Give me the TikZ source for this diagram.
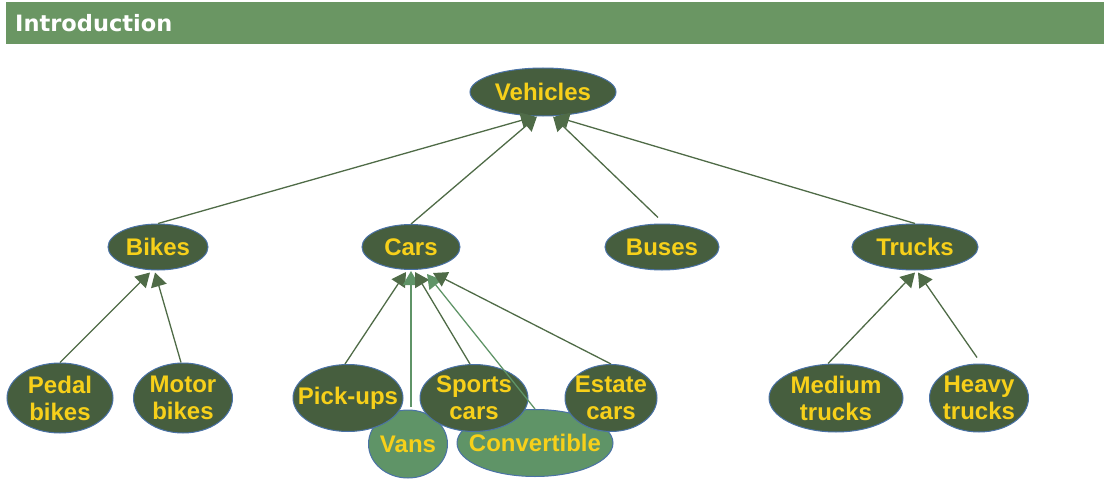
\documentclass[tikz,border=0pt]{standalone}
\usepackage{fontspec}
\setmainfont{Liberation Sans}
\newfontfamily\hdrfont{DejaVu Sans}
\usetikzlibrary{shapes.geometric,arrows.meta,calc}
\definecolor{hdrgreen}{HTML}{6A9663}
\definecolor{darkfill}{HTML}{465E3E}
\definecolor{lightfill}{HTML}{5F9467}
\definecolor{rim}{HTML}{4A72A6}
\definecolor{txtyellow}{HTML}{F7D01A}
\definecolor{darkline}{HTML}{4F6B47}
\begin{document}
\begin{tikzpicture}[x=1pt,y=-1pt,
  el/.style={ellipse,draw=rim,line width=1pt,fill=darkfill,inner sep=0pt},
  lel/.style={el,fill=lightfill},
  tx/.style={text=txtyellow,font=\fontsize{24}{27}\selectfont\bfseries,align=center,inner sep=0pt},
  arr/.style={draw=darkline,line width=1.3pt,-{Triangle[length=14pt,width=16pt]}},
  larr/.style={arr,draw=lightfill}]
\useasboundingbox (0,0) rectangle (1104,487);
% header
\node[fill=hdrgreen,minimum width=1098pt,minimum height=42pt,inner sep=0pt,anchor=north west] (hdr) at (6,2) {};
\node[anchor=base west,inner sep=0pt,text=white,font=\hdrfont\bfseries\fontsize{22.5}{24}\selectfont] (hdrtxt) at (15,32) {Introduction};
% ellipses
\node[el,minimum width=146pt,minimum height=48pt] (veh) at (543,92) {};
\node[el,minimum width=100pt,minimum height=46pt] (bikes) at (158,247) {};
\node[el,minimum width=98pt,minimum height=45pt] (cars) at (411,247) {};
\node[el,minimum width=114pt,minimum height=46pt] (buses) at (662,247) {};
\node[el,minimum width=126pt,minimum height=46pt] (trucks) at (915,247) {};
\node[el,minimum width=106pt,minimum height=70pt] (pedal) at (60,398) {};
\node[el,minimum width=99pt,minimum height=70pt] (motor) at (183,398) {};
\node[lel,minimum width=79pt,minimum height=68pt] (vans) at (408,444) {};
\node[lel,minimum width=156pt,minimum height=67pt] (conv) at (535,443) {};
\node[el,minimum width=110pt,minimum height=67pt] (pick) at (348,398) {};
\node[el,minimum width=108pt,minimum height=67pt] (sports) at (474,398) {};
\node[el,minimum width=92pt,minimum height=67pt] (estate) at (611,398) {};
\node[el,minimum width=134pt,minimum height=68pt] (medium) at (836,398) {};
\node[el,minimum width=99pt,minimum height=68pt] (heavy) at (979,398) {};
% texts
\node[tx] (veh-t) at (veh) {Vehicles};
\node[tx] (bikes-t) at (bikes) {Bikes};
\node[tx] (cars-t) at (cars) {Cars};
\node[tx] (buses-t) at (buses) {Buses};
\node[tx] (trucks-t) at (trucks) {Trucks};
\node[tx] (pedal-t) at (pedal) {Pedal\\bikes};
\node[tx] (motor-t) at (motor) {Motor\\bikes};
\node[tx] (vans-t) at (vans) {Vans};
\node[tx] (conv-t) at (conv) {Convertible};
\node[tx] (pick-t) at (pick) {Pick-ups};
\node[tx] (sports-t) at (sports) {Sports\\cars};
\node[tx] (estate-t) at (estate) {Estate\\cars};
\node[tx] (medium-t) at (medium) {Medium\\trucks};
\node[tx] (heavy-t) at (heavy) {Heavy\\trucks};
% connectors
\draw[arr] (bikes.north) -- ($(veh.south)+(-8,0)$);
\draw[arr] (cars.north) -- ($(veh.south)+(-6,0)$);
\draw[arr] ($(buses.north)+(-4,-6)$) -- ($(veh.south)+(10,0)$);
\draw[arr] (trucks.north) -- ($(veh.south)+(12,0)$);
\draw[arr] (pedal.north) -- ($(bikes.south)+(-8,2)$);
\draw[arr] ($(motor.north)+(-2,0)$) -- ($(bikes.south)+(-3,2)$);
\draw[arr] ($(pick.north)+(-3,0)$) -- ($(cars.south)+(-5,2)$);
\draw[larr] ($(vans.north)+(3,-3)$) -- ($(cars.south)+(0,1)$);
\draw[arr] ($(sports.north)+(-4,0)$) -- ($(cars.south)+(4,2)$);
\draw[larr] (conv.north) -- ($(cars.south)+(16,4)$);
\draw[arr] (estate.north) -- ($(cars.south)+(22,3)$);
\draw[arr] ($(medium.north)+(-8,0)$) -- ($(trucks.south)+(0,2)$);
\draw[arr] ($(heavy.north)+(-2,-6)$) -- ($(trucks.south)+(3,2)$);
\end{tikzpicture}
\end{document}
